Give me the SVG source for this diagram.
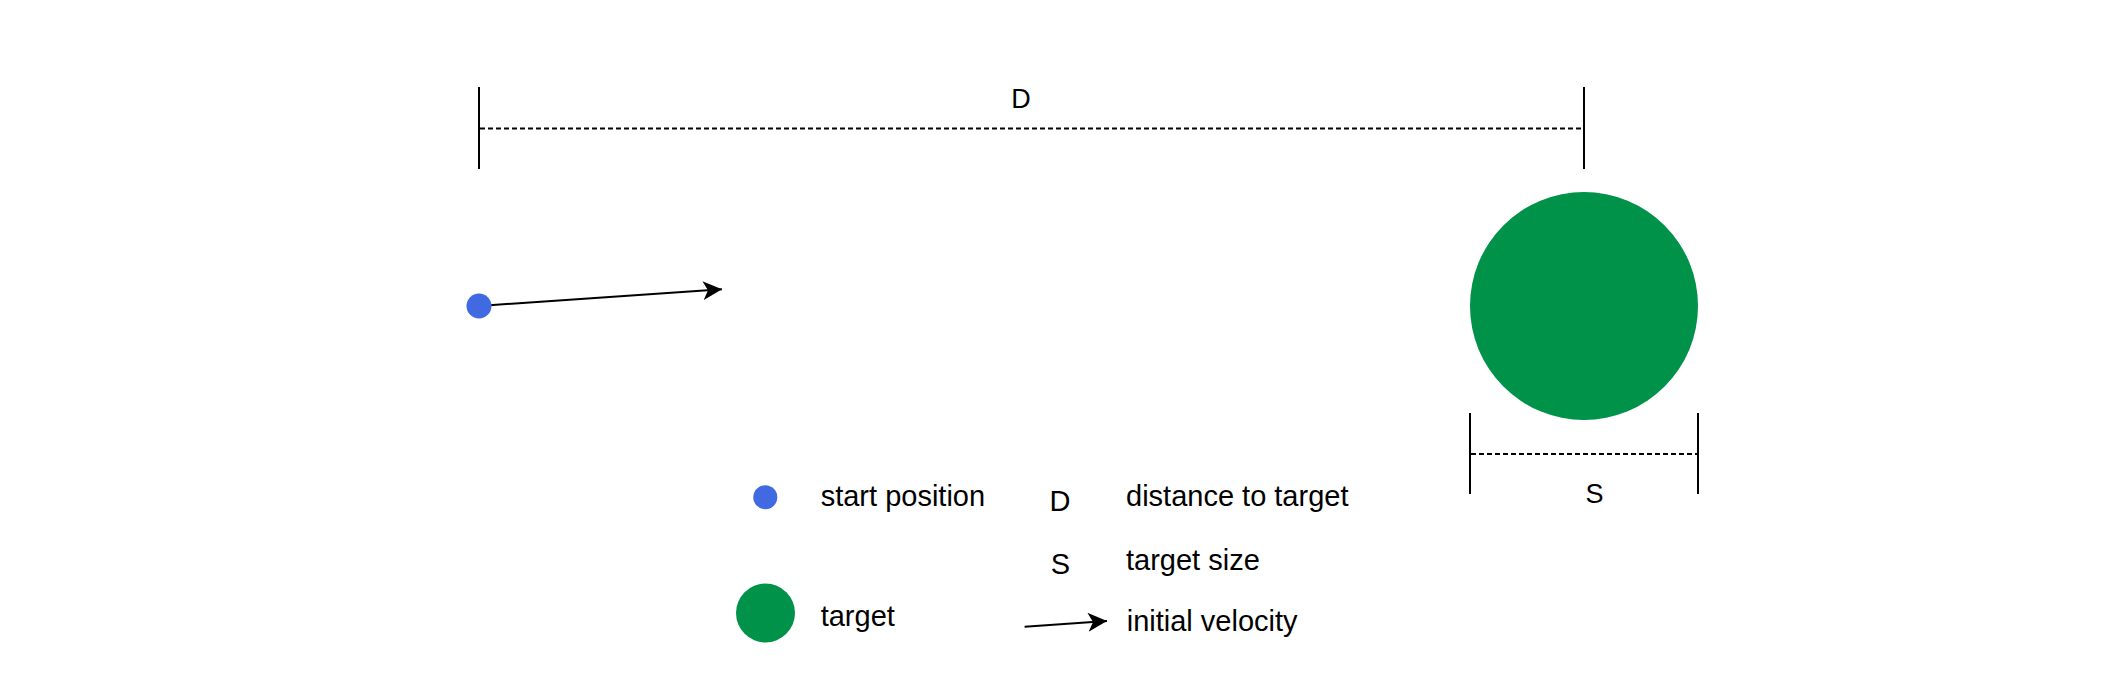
<svg xmlns="http://www.w3.org/2000/svg" width="2126" height="693" viewBox="0 0 2126 693">
<style>
.tick{stroke:#000;stroke-width:2;fill:none}
.dash{stroke:#000;stroke-width:2;stroke-dasharray:5 3;fill:none}
.conn{stroke:#000;stroke-width:2;fill:none}
.lbl{font-family:"Liberation Sans",Arial,sans-serif;font-size:27px;fill:#000}
.leg{font-family:"Liberation Sans",Arial,sans-serif;font-size:29px;fill:#000}
.blue{fill:#4169E1}
.green{fill:#009248}
</style>
<defs>
<marker id="arr" markerUnits="userSpaceOnUse" viewBox="0 0 19 19" refX="19" refY="9.5" markerWidth="19" markerHeight="19" orient="auto">
<path d="M0,0 L19,9.5 L0,19 L5,9.5 Z" fill="#000"/>
</marker>
</defs>
<rect width="2126" height="693" fill="#fff"/>
<g id="dim-D">
<line class="tick" x1="479" y1="87" x2="479" y2="169"/>
<line class="tick" x1="1584" y1="87" x2="1584" y2="169"/>
<line class="dash" x1="480" y1="128.5" x2="1583" y2="128.5"/>
<text class="lbl" x="1021" y="107.5" text-anchor="middle">D</text>
</g>
<g id="dim-S">
<line class="tick" x1="1470" y1="413" x2="1470" y2="494"/>
<line class="tick" x1="1698" y1="413" x2="1698" y2="494"/>
<line class="dash" x1="1471" y1="454" x2="1697" y2="454"/>
<text class="lbl" x="1594.5" y="502.5" text-anchor="middle">S</text>
</g>
<g id="target">
<circle class="green" cx="1584" cy="306" r="114"/>
</g>
<g id="connectors">
<line class="conn" x1="479" y1="306" x2="722" y2="289.3" marker-end="url(#arr)"/>
<line class="conn" x1="1024.6" y1="626.7" x2="1107" y2="621" marker-end="url(#arr)"/>
</g>
<g id="start">
<circle class="blue" cx="479" cy="306" r="12.5"/>
</g>
<g id="legend">
<circle class="blue" cx="765.3" cy="497.3" r="12"/>
<text class="leg" x="820.7" y="506">start position</text>
<circle class="green" cx="765.5" cy="613" r="29.5"/>
<text class="leg" x="820.7" y="625.5">target</text>
<text class="leg" x="1060" y="511" text-anchor="middle">D</text>
<text class="leg" x="1060.5" y="573.5" text-anchor="middle">S</text>
<text class="leg" x="1126" y="506">distance to target</text>
<text class="leg" x="1126" y="570">target size</text>
<text class="leg" x="1126.7" y="631">initial velocity</text>
</g>
</svg>
